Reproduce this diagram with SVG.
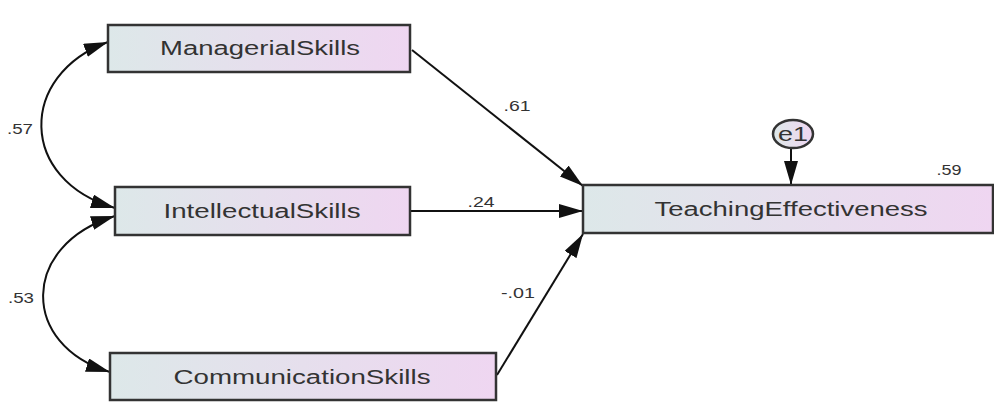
<svg xmlns="http://www.w3.org/2000/svg" width="994" height="403" viewBox="0 0 994 403">
<defs>
<linearGradient id="g" x1="0" y1="0" x2="1" y2="0">
<stop offset="0" stop-color="#dde8e9"/>
<stop offset="1" stop-color="#efd6f1"/>
</linearGradient>
<marker id="ah" viewBox="0 0 24 14" refX="24" refY="7" markerWidth="24" markerHeight="14" markerUnits="userSpaceOnUse" orient="auto-start-reverse">
<path d="M0,0 L24,7 L0,14 z" fill="#111"/>
</marker>
<style>
.box{fill:url(#g);stroke:#333;stroke-width:2.5}
.lbl{font-family:"Liberation Sans",Arial,sans-serif;font-size:20px;fill:#333;text-anchor:middle}
.num{font-family:"Liberation Sans",Arial,sans-serif;font-size:15px;fill:#333;text-anchor:middle}
.con{fill:none;stroke:#111;stroke-width:2}
</style>
</defs>
<rect width="994" height="403" fill="#fff"/>
<g id="connectors">
<path class="con" d="M412,50 L583,186" marker-end="url(#ah)"/>
<path class="con" d="M411,211 L583,211" marker-end="url(#ah)"/>
<path class="con" d="M497,375 L583,234" marker-end="url(#ah)"/>
<path class="con" d="M108,42 C18,75 18,180 115,208" marker-start="url(#ah)" marker-end="url(#ah)"/>
<path class="con" d="M115,216 C20,245 20,345 110,372" marker-start="url(#ah)" marker-end="url(#ah)"/>
<path class="con" d="M791,148 L791,185" marker-end="url(#ah)"/>
<text class="num" x="517" y="111" textLength="27" lengthAdjust="spacingAndGlyphs">.61</text>
<text class="num" x="481" y="207" textLength="27" lengthAdjust="spacingAndGlyphs">.24</text>
<text class="num" x="518" y="298" textLength="34" lengthAdjust="spacingAndGlyphs">-.01</text>
<text class="num" x="20" y="134" textLength="26" lengthAdjust="spacingAndGlyphs">.57</text>
<text class="num" x="21" y="303" textLength="26" lengthAdjust="spacingAndGlyphs">.53</text>
</g>
<g id="ManagerialSkills">
<rect class="box" x="108" y="25" width="302" height="47"/>
<text class="lbl" x="260" y="55" textLength="200" lengthAdjust="spacingAndGlyphs">ManagerialSkills</text>
</g>
<g id="IntellectualSkills">
<rect class="box" x="115" y="187" width="295" height="48"/>
<text class="lbl" x="262" y="218" textLength="197" lengthAdjust="spacingAndGlyphs">IntellectualSkills</text>
</g>
<g id="CommunicationSkills">
<rect class="box" x="110" y="353" width="386" height="47"/>
<text class="lbl" x="302" y="384" textLength="257" lengthAdjust="spacingAndGlyphs">CommunicationSkills</text>
</g>
<g id="TeachingEffectiveness">
<rect class="box" x="583" y="185" width="410" height="48"/>
<text class="lbl" x="791" y="216" textLength="273" lengthAdjust="spacingAndGlyphs">TeachingEffectiveness</text>
<text class="num" x="949" y="175" textLength="25" lengthAdjust="spacingAndGlyphs">.59</text>
</g>
<g id="e1">
<ellipse cx="793" cy="134" rx="20" ry="14" fill="url(#g)" stroke="#333" stroke-width="2.5"/>
<text class="lbl" x="793" y="141" textLength="30" lengthAdjust="spacingAndGlyphs">e1</text>
</g>
</svg>
